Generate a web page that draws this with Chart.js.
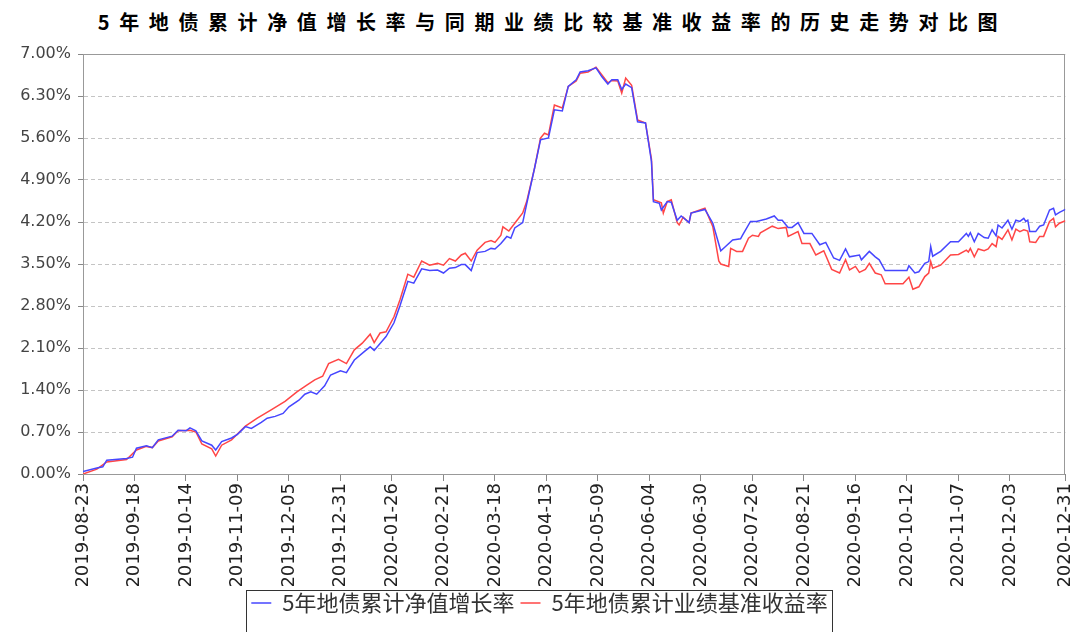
<!DOCTYPE html>
<html lang="zh">
<head>
<meta charset="UTF-8" />
<title>5年地债累计净值增长率与同期业绩比较基准收益率的历史走势对比图</title>
<script src="https://cdn.jsdelivr.net/npm/chart.js@4.4.1"></script>
<style>
  body { margin:0; background:#fff; }
  .wrap { position:relative; width:1089px; height:632px; overflow:hidden; }
  .title { position:absolute; left:0; top:10px; width:1089px; box-sizing:border-box; padding-left:16px;
           text-align:center; font:bold 20px "Noto Sans CJK SC"; letter-spacing:9.6px; line-height:24px; color:#000; }
  canvas { position:absolute; left:0; top:0; }
</style>
</head>
<body>
<div class="wrap">
  <div class="title">5年地债累计净值增长率与同期业绩比较基准收益率的历史走势对比图</div>
  <canvas id="myChart" width="1089" height="632"></canvas>
</div>

<script>
  // x axis tick labels (dates) and y ticks (%)
  var tickLabels = ['2019-08-23','2019-09-18','2019-10-14','2019-11-09','2019-12-05','2019-12-31',
    '2020-01-26','2020-02-21','2020-03-18','2020-04-13','2020-05-09','2020-06-04','2020-06-30',
    '2020-07-26','2020-08-21','2020-09-16','2020-10-12','2020-11-07','2020-12-03','2020-12-31'];
  var yTicks = [0, 0.7, 1.4, 2.1, 2.8, 3.5, 4.2, 4.9, 5.6, 6.3, 7.0];

  var navName   = '5年地债累计净值增长率';
  var benchName = '5年地债累计业绩基准收益率';

  // days since 2019-08-23, value in %
  var navDays = [0,7,10,12,22,25,27,32,35,38,45,48,52,54,57,60,65,67,70,75,78,82,85,90,93,97,101,104,109,112,
    115,118,122,125,130,133,137,142,145,147,153,157,160,164,167,171,175,179,182,185,188,191,193,196,199,203,206,208,211,214,
    216,218,222,224,228,231,235,238,242,245,249,251,255,259,262,265,267,270,272,274,277,280,284,287,288,291,292,295,297,300,
    302,306,307,314,318,322,324,328,332,333,337,340,345,349,351,353,356,358,361,364,368,372,375,379,382,385,387,392,393,397,
    400,402,405,416,417,420,422,425,427,428,429,433,438,442,446,447,448,450,452,455,457,459,461,462,464,467,469,471,473,475,
    476,477,478,481,483,485,488,490,491,493,496];
  var navValues = [0.04,0.10,0.12,0.23,0.26,0.28,0.43,0.47,0.44,0.57,0.63,0.73,0.72,0.77,0.72,0.55,0.48,0.40,0.54,0.60,0.66,0.79,0.76,0.86,0.93,0.96,1.01,1.12,1.23,1.33,
    1.37,1.33,1.47,1.65,1.72,1.69,1.90,2.04,2.12,2.06,2.29,2.52,2.80,3.21,3.18,3.42,3.39,3.40,3.35,3.43,3.44,3.49,3.49,3.39,3.69,3.71,3.76,3.75,3.84,3.96,
    3.93,4.10,4.19,4.50,5.10,5.57,5.60,6.07,6.05,6.46,6.57,6.70,6.72,6.77,6.62,6.50,6.57,6.57,6.41,6.50,6.44,5.87,5.85,5.21,4.54,4.51,4.40,4.54,4.53,4.23,
    4.30,4.19,4.35,4.41,4.18,3.72,3.78,3.90,3.92,3.98,4.21,4.21,4.25,4.30,4.23,4.23,4.11,4.11,4.19,4.01,4.01,3.82,3.86,3.60,3.56,3.75,3.62,3.65,3.57,3.71,
    3.62,3.57,3.39,3.39,3.47,3.35,3.37,3.51,3.54,3.79,3.63,3.71,3.87,3.87,4.01,3.96,4.02,3.87,4.01,3.94,3.93,4.07,3.97,4.15,4.10,4.23,4.08,4.23,4.21,4.26,
    4.21,4.23,4.04,4.04,4.13,4.15,4.40,4.43,4.32,4.36,4.41];

  var benchDays = [0,7,12,22,27,32,35,38,45,48,54,57,60,65,67,70,75,82,88,95,102,108,113,117,121,124,129,133,137,141,
    145,147,150,153,157,160,164,167,171,175,179,182,185,188,191,193,196,199,203,206,208,211,212,215,218,222,224,228,231,233,
    235,238,242,245,249,251,255,259,262,265,267,270,272,274,277,280,284,287,288,292,293,295,297,300,301,303,306,307,314,318,
    321,322,326,327,330,333,336,338,341,342,348,351,355,356,361,363,367,370,374,378,382,385,387,390,392,395,397,400,403,405,
    414,417,419,422,425,427,428,429,433,438,442,446,447,448,450,452,455,457,459,461,462,464,467,469,471,473,475,477,478,481,
    483,485,488,490,491,493,496];
  var benchValues = [0.00,0.08,0.20,0.24,0.40,0.46,0.44,0.55,0.62,0.72,0.73,0.70,0.50,0.42,0.30,0.48,0.57,0.80,0.93,1.07,1.21,1.37,1.48,1.57,1.63,1.84,1.91,1.84,2.07,2.18,
    2.33,2.19,2.35,2.37,2.62,2.90,3.33,3.28,3.55,3.48,3.51,3.48,3.59,3.55,3.65,3.68,3.55,3.73,3.86,3.89,3.86,3.98,4.12,4.05,4.18,4.35,4.54,5.10,5.60,5.68,
    5.65,6.15,6.10,6.46,6.55,6.68,6.70,6.78,6.65,6.52,6.56,6.55,6.35,6.60,6.48,5.90,5.85,5.25,4.57,4.52,4.35,4.54,4.57,4.19,4.15,4.28,4.19,4.35,4.43,4.12,
    3.55,3.50,3.46,3.76,3.71,3.71,3.93,3.98,3.96,4.02,4.13,4.09,4.11,3.96,4.04,3.84,3.84,3.65,3.72,3.41,3.35,3.57,3.40,3.46,3.36,3.41,3.51,3.35,3.32,3.17,
    3.17,3.28,3.08,3.12,3.29,3.35,3.54,3.43,3.48,3.65,3.66,3.73,3.70,3.76,3.62,3.75,3.72,3.75,3.84,3.79,3.96,3.91,4.07,3.90,4.08,4.04,4.07,4.05,3.87,3.86,
    3.96,3.96,4.21,4.26,4.12,4.18,4.22];

  var START = Date.parse(tickLabels[0]);
  function dayOf(s){ return Math.round((Date.parse(s) - START) / 86400000); }
  function dateOf(d){ return new Date(START + d * 86400000).toISOString().slice(0, 10); }
  function pts(days, vals){ return days.map(function(d, i){ return { x:d, y:vals[i] }; }); }

  // grey frame round the plot area
  var frame = {
    id:'frame',
    beforeDatasetsDraw: function(c){
      var a = c.chartArea, g = c.ctx;
      g.save();
      g.strokeStyle = '#999';
      g.lineWidth = 1;
      g.strokeRect(Math.round(a.left) + 0.5, Math.round(a.top) + 0.5,
                   Math.round(a.right - a.left) - 1, Math.round(a.bottom - a.top));
      g.restore();
    }
  };

  // box round the legend
  var legendBox = {
    id:'legendBox',
    afterDraw: function(c){
      var hb = c.legend.legendHitBoxes;
      if (!hb || !hb.length) return;
      var last = hb[hb.length - 1], g = c.ctx;
      var l = Math.round(hb[0].left) - 5, r = Math.round(last.left + last.width) + 4;
      var t = Math.round(hb[0].top) - 2;
      g.save();
      g.strokeStyle = '#333';
      g.lineWidth = 1;
      g.strokeRect(l + 0.5, t + 0.5, r - l, 60);
      g.restore();
    }
  };

  var lastDay = dayOf(tickLabels[tickLabels.length - 1]);

  new Chart(document.getElementById('myChart'), {
    type:'line',
    data:{
      datasets:[
        { label:navName, data:pts(navDays, navValues), borderColor:'#4646ff', backgroundColor:'#4646ff',
          borderWidth:1.5, pointRadius:0, pointStyle:'line', tension:0 },
        { label:benchName, data:pts(benchDays, benchValues), borderColor:'#ff4646', backgroundColor:'#ff4646',
          borderWidth:1.5, pointRadius:0, pointStyle:'line', tension:0 }
      ]
    },
    options:{
      responsive:false,
      animation:false,
      layout:{ padding:{ top:54, right:10, bottom:8, left:0 } },
      plugins:{
        title:{ display:false },
        tooltip:{ enabled:false },
        legend:{
          position:'bottom',
          labels:{ usePointStyle:true, pointStyleWidth:20, padding:6, color:'#333',
                   font:{ family:'Noto Sans CJK SC', size:22 } }
        }
      },
      scales:{
        x:{
          type:'linear', min:0, max:lastDay,
          afterBuildTicks: function(s){ s.ticks = tickLabels.map(function(t){ return { value:dayOf(t) }; }); },
          afterFit: function(s){ s.height = 112; },
          grid:{ drawOnChartArea:false, tickLength:7, tickColor:'#888' },
          border:{ color:'#888' },
          ticks:{ autoSkip:false, minRotation:90, maxRotation:90, padding:2, color:'#222',
                  font:{ family:'DejaVu Sans', size:18 },
                  callback: function(v){ return dateOf(v); } }
        },
        y:{
          min:0, max:7,
          afterBuildTicks: function(s){ s.ticks = yTicks.map(function(v){ return { value:v }; }); },
          afterFit: function(s){ s.width = 83; },
          grid:{ color:'#c4c4c4', tickLength:5, tickColor:'#888' },
          border:{ dash:[4,3], color:'#888' },
          ticks:{ color:'#444', padding:7, font:{ family:'DejaVu Sans', size:16 },
                  callback: function(v){ return v.toFixed(2) + '%'; } }
        }
      }
    },
    plugins:[frame, legendBox]
  });
</script>
</body>
</html>
